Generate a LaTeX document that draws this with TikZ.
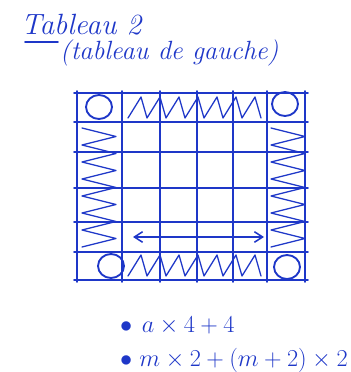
\documentclass[tikz,border=0pt]{standalone}
\usepackage{amsmath,amssymb}
\usepackage{tikz}
\usetikzlibrary{arrows.meta}

\definecolor{inkblue}{RGB}{30,55,200}
\tikzset{
  pen/.style={inkblue, line width=1.3pt, line cap=round, line join=round},
  hatch/.style={pen, line width=1.1pt},
  corner/.style={pen, line width=1.6pt},
  hand/.style={inkblue, inner sep=0pt, anchor=west}
}

\begin{document}
\begin{tikzpicture}[x=0.03cm, y=-0.03cm]
  \useasboundingbox (0,0) rectangle (350,372);

  % Title
  \node[hand, font=\fontsize{25}{27}\selectfont\itshape] (title) at (21,25) {Tableau 2};
  \node[hand, font=\fontsize{22.5}{24}\selectfont\itshape] (subtitle) at (60,53) {(tableau de gauche)};
  \draw[pen] (25,42) -- (58,42);

  % Grid
  \foreach \x in {77, 122, 160, 197, 233, 267, 305} {
    \draw[pen] (\x, 91) -- (\x, 282);
  }
  \foreach \y in {93, 122, 152, 188, 222, 252, 280} {
    \draw[pen] (74, \y) -- (308, \y);
  }

  % Hatched border cells (top, bottom)
  \foreach \y in {97, 255} {
    \draw[hatch] (128,\y+21) \foreach \i in {0,...,6} { -- (128+\i*19+13,\y) -- (128+\i*19+19,\y+21) };
  }
  % Hatched border cells (left, right)
  \foreach \x in {82, 271} {
    \draw[hatch] (\x,128) \foreach \i in {0,...,6} { -- (\x+34,128+\i*17+8.5) -- (\x,128+\i*17+17) };
  }

  % Corner circles
  \foreach \n/\x/\y in {tl/99/107, tr/285/104, bl/111/266, br/287/267} {
    \draw[corner] (\x,\y) ellipse [x radius=13, y radius=12];
  }

  % Double arrow
  \coordinate (arrowL) at (133,237);
  \coordinate (arrowR) at (264,237);
  \draw[pen, {Straight Barb[length=7pt,width=9pt]}-{Straight Barb[length=7pt,width=9pt]}] (arrowL) -- (arrowR);

  % Formulas
  \node[hand, font=\fontsize{22}{24}\selectfont] (f1) at (120,326) {$\bullet$\hspace{8pt}$a\times 4+4$};
  \node[hand, font=\fontsize{19.5}{22}\selectfont] (f2) at (120,360) {$\bullet$\hspace{6pt}$m\times 2+(m+2)\times 2$};
\end{tikzpicture}
\end{document}
